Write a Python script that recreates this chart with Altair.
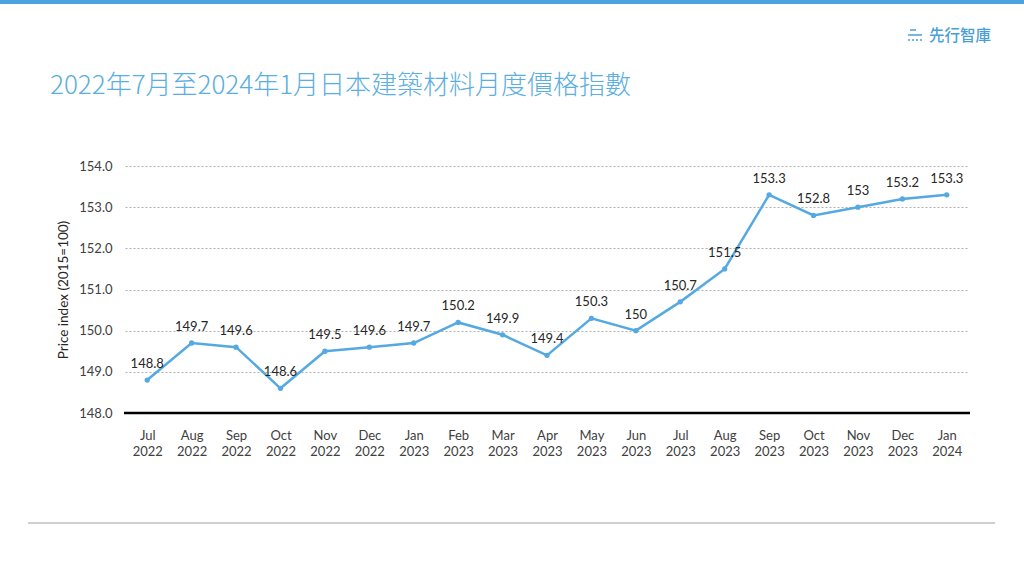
import altair as alt
import pandas as pd

months = ["Jul 2022", "Aug 2022", "Sep 2022", "Oct 2022", "Nov 2022", "Dec 2022",
          "Jan 2023", "Feb 2023", "Mar 2023", "Apr 2023", "May 2023", "Jun 2023",
          "Jul 2023", "Aug 2023", "Sep 2023", "Oct 2023", "Nov 2023", "Dec 2023", "Jan 2024"]
values = [148.8, 149.7, 149.6, 148.6, 149.5, 149.6, 149.7, 150.2, 149.9, 149.4,
          150.3, 150.0, 150.7, 151.5, 153.3, 152.8, 153.0, 153.2, 153.3]
labels = ["148.8", "149.7", "149.6", "148.6", "149.5", "149.6", "149.7", "150.2", "149.9", "149.4",
          "150.3", "150", "150.7", "151.5", "153.3", "152.8", "153", "153.2", "153.3"]
y_ticks = [148, 149, 150, 151, 152, 153, 154]

title_text = "2022年7月至2024年1月日本建築材料月度價格指數"
logo_text = "先行智庫"
y_title = "Price index (2015=100)"

df = pd.DataFrame({"month": months, "value": values, "label": labels})

W, H = 844, 247
PL, PT = 125, 166
LINE_COLOR = "#55a9e2"
FONT = "Lato"

x_enc = alt.X("month:N", sort=months, title=None,
              scale=alt.Scale(type="point", padding=0.5),
              axis=alt.Axis(labelAngle=0, labelExpr="split(datum.label, ' ')",
                            labelFont=FONT, labelFontSize=13, labelColor="#404040",
                            labelPadding=16, labelLineHeight=16,
                            ticks=False, domain=False, grid=False))
y_enc = alt.Y("value:Q", title=y_title,
              scale=alt.Scale(domain=[148, 154], nice=False, zero=False),
              axis=alt.Axis(values=y_ticks, format=".1f", labelFont=FONT, labelFontSize=13,
                            labelColor="#404040", labelPadding=13, ticks=False, domain=False,
                            gridColor="#b0b0b0", gridDash=[2, 2], gridWidth=1,
                            titleFont=FONT, titleFontSize=13.5, titleFontWeight="normal",
                            titleColor="#262626", titlePadding=8))

base = alt.Chart(df)

line = base.mark_line(color=LINE_COLOR, strokeWidth=2.5).encode(x=x_enc, y=y_enc)
pts = base.mark_point(filled=True, color=LINE_COLOR, size=28, opacity=1).encode(
    x=alt.X("month:N", sort=months), y="value:Q")
txt = base.mark_text(font=FONT, fontSize=13, color="#262626", dy=-16, baseline="middle").encode(
    x=alt.X("month:N", sort=months), y="value:Q", text="label:N")

baseline_rule = alt.Chart(pd.DataFrame({"v": [148]})).mark_rule(color="#000000", strokeWidth=2.5).encode(
    y="v:Q", x=alt.value(-1), x2=alt.value(W + 1))

top_bar = alt.Chart(pd.DataFrame({"a": [0]})).mark_rect(color="#4da3e0").encode(
    x=alt.value(-PL), x2=alt.value(1024 - PL), y=alt.value(-PT), y2=alt.value(-PT + 4))

bottom_rule = alt.Chart(pd.DataFrame({"a": [0]})).mark_rule(color="#a0a0a0", strokeWidth=1).encode(
    x=alt.value(28 - PL), x2=alt.value(995 - PL), y=alt.value(523 - PT))

title = alt.Chart(pd.DataFrame({"t": [title_text]})).mark_text(
    font="Noto Sans CJK TC", fontSize=26, fontWeight=300, color="#5aaee0",
    align="left", baseline="alphabetic").encode(
    text="t:N", x=alt.value(50 - PL), y=alt.value(94 - PT))

logo = alt.Chart(pd.DataFrame({"t": [logo_text]})).mark_text(
    font="Noto Sans CJK TC", fontSize=15.5, fontWeight=500, color="#4a9fd8",
    align="left", baseline="alphabetic").encode(
    text="t:N", x=alt.value(929 - PL), y=alt.value(41 - PT))

icon1 = alt.Chart(pd.DataFrame({"a": [0]})).mark_rule(color="#4a9fd8", strokeWidth=1.5).encode(
    x=alt.value(910 - PL), x2=alt.value(916 - PL), y=alt.value(30 - PT))
icon2 = alt.Chart(pd.DataFrame({"a": [0]})).mark_rule(color="#4a9fd8", strokeWidth=1.5).encode(
    x=alt.value(908 - PL), x2=alt.value(922 - PL), y=alt.value(35 - PT))
icon3 = alt.Chart(pd.DataFrame({"a": [0]})).mark_rule(color="#4a9fd8", strokeWidth=1.5, strokeDash=[2, 2]).encode(
    x=alt.value(908 - PL), x2=alt.value(922 - PL), y=alt.value(40 - PT))

chart = alt.layer(line, baseline_rule, pts, txt, top_bar, bottom_rule, title, logo, icon1, icon2, icon3).properties(
    width=W, height=H,
    autosize=alt.AutoSizeParams(type="none"),
    padding={"left": PL, "top": PT, "right": 1024 - PL - W, "bottom": 576 - PT - H},
    background="white"
).configure_view(stroke=None)

chart.save("out.html", embed_options={"renderer": "svg", "actions": False})
